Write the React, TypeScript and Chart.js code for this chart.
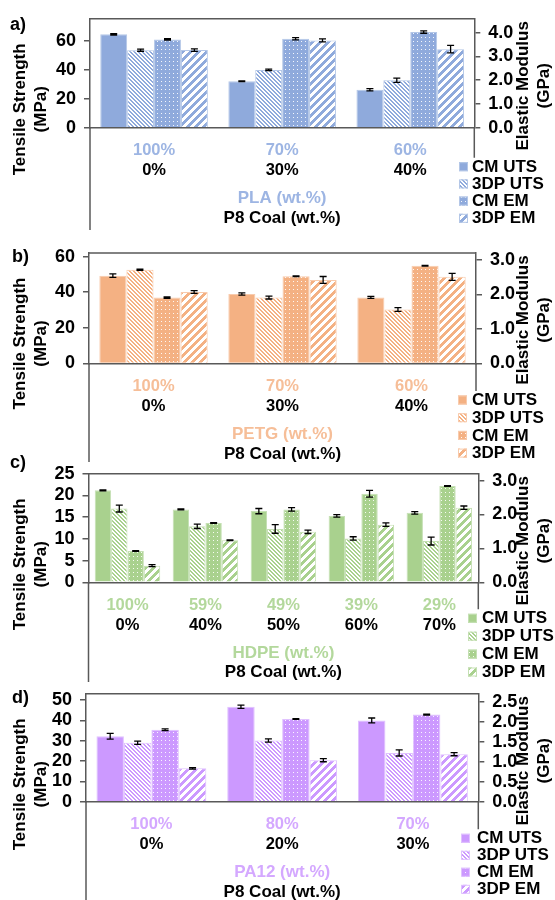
import React, { useEffect, useRef } from 'react';
import { Chart, registerables } from 'chart.js';

Chart.register(...registerables);

const FONT = "'Liberation Sans', Arial, Helvetica, sans-serif";
const AXIS = '#595959';

// ---------- Data ----------
const SERIES_NAMES = ['CM UTS', '3DP UTS', 'CM EM', '3DP EM'];
const COAL_TITLE = 'P8 Coal (wt.%)';

// a) PLA
const PLA_POLYMER = ['100%', '70%', '60%'];
const PLA_COAL = ['0%', '30%', '40%'];
const PLA_CM_UTS = [64.5, 32.1, 26.2];
const PLA_CM_UTS_ERR = [0.5, 0.3, 0.8];
const PLA_3DP_UTS = [53.5, 39.9, 32.8];
const PLA_3DP_UTS_ERR = [0.7, 0.5, 1.5];
const PLA_CM_EM = [3.72, 3.75, 4.03];
const PLA_CM_EM_ERR = [0.03, 0.05, 0.05];
const PLA_3DP_EM = [3.27, 3.68, 3.31];
const PLA_3DP_EM_ERR = [0.05, 0.06, 0.16];

// b) PETG
const PETG_POLYMER = ['100%', '70%', '60%'];
const PETG_COAL = ['0%', '30%', '40%'];
const PETG_CM_UTS = [49.3, 39.0, 37.1];
const PETG_CM_UTS_ERR = [1.0, 0.6, 0.6];
const PETG_3DP_UTS = [52.6, 37.0, 30.3];
const PETG_3DP_UTS_ERR = [0.4, 0.8, 1.0];
const PETG_CM_EM = [1.91, 2.53, 2.83];
const PETG_CM_EM_ERR = [0.02, 0.01, 0.01];
const PETG_3DP_EM = [2.07, 2.42, 2.51];
const PETG_3DP_EM_ERR = [0.04, 0.1, 0.1];

// c) HDPE
const HDPE_POLYMER = ['100%', '59%', '49%', '39%', '29%'];
const HDPE_COAL = ['0%', '40%', '50%', '60%', '70%'];
const HDPE_CM_UTS = [21.2, 16.8, 16.4, 15.3, 16.0];
const HDPE_CM_UTS_ERR = [0.1, 0.1, 0.6, 0.3, 0.3];
const HDPE_3DP_UTS = [17.0, 12.9, 12.3, 10.1, 9.5];
const HDPE_3DP_UTS_ERR = [0.8, 0.5, 1.0, 0.4, 0.9];
const HDPE_CM_EM = [0.92, 1.75, 2.15, 2.61, 2.84];
const HDPE_CM_EM_ERR = [0.01, 0.01, 0.05, 0.1, 0.01];
const HDPE_3DP_EM = [0.49, 1.24, 1.49, 1.7, 2.2];
const HDPE_3DP_EM_ERR = [0.03, 0.01, 0.05, 0.05, 0.05];

// d) PA12
const PA12_POLYMER = ['100%', '80%', '70%'];
const PA12_COAL = ['0%', '20%', '30%'];
const PA12_CM_UTS = [32.2, 46.7, 40.0];
const PA12_CM_UTS_ERR = [1.4, 0.8, 1.2];
const PA12_3DP_UTS = [29.0, 30.1, 24.0];
const PA12_3DP_UTS_ERR = [0.8, 0.8, 1.5];
const PA12_CM_EM = [1.8, 2.07, 2.18];
const PA12_CM_EM_ERR = [0.02, 0.01, 0.01];
const PA12_3DP_EM = [0.835, 1.04, 1.19];
const PA12_3DP_EM_ERR = [0.02, 0.04, 0.04];

// ---------- Panels (styles & layout) ----------
const PANELS = [
  {
    key: 'a', letter: 'a)', polymerName: 'PLA (wt.%)',
    polymer: PLA_POLYMER, coal: PLA_COAL,
    values: [PLA_CM_UTS, PLA_3DP_UTS, PLA_CM_EM, PLA_3DP_EM],
    errors: [PLA_CM_UTS_ERR, PLA_3DP_UTS_ERR, PLA_CM_EM_ERR, PLA_3DP_EM_ERR],
    color: '#8FAADC', light: '#B4C7E7', labelColor: '#9DB5E3',
    leftMax: 75.2, leftStep: 20, rightMax: 4.59, rightStep: 1,
    L: { canvasTop: 0, canvasH: 240, top: 17.5, zero: 127.7, left: 90, right: 474.3, lineBottom: 230,
      letterX: 10, letterY: 25, legendX: 459, legendTextX: 472, legendY: 166.7, legendDy: 17.2 },
  },
  {
    key: 'b', letter: 'b)', polymerName: 'PETG (wt.%)',
    polymer: PETG_POLYMER, coal: PETG_COAL,
    values: [PETG_CM_UTS, PETG_3DP_UTS, PETG_CM_EM, PETG_3DP_EM],
    errors: [PETG_CM_UTS_ERR, PETG_3DP_UTS_ERR, PETG_CM_EM_ERR, PETG_3DP_EM_ERR],
    color: '#F4B183', light: '#F8CBAD', labelColor: '#F6BE98',
    leftMax: 62, leftStep: 20, rightMax: 3.2, rightStep: 1,
    L: { canvasTop: 232, canvasH: 235, top: 253, zero: 363.5, left: 89, right: 476, lineBottom: 462,
      letterX: 12, letterY: 257, legendX: 458, legendTextX: 472, legendY: 400, legendDy: 17.7 },
  },
  {
    key: 'c', letter: 'c)', polymerName: 'HDPE (wt.%)',
    polymer: HDPE_POLYMER, coal: HDPE_COAL,
    values: [HDPE_CM_UTS, HDPE_3DP_UTS, HDPE_CM_EM, HDPE_3DP_EM],
    errors: [HDPE_CM_UTS_ERR, HDPE_3DP_UTS_ERR, HDPE_CM_EM_ERR, HDPE_3DP_EM_ERR],
    color: '#A9D18E', light: '#C5E0B4', labelColor: '#B3D89C',
    leftMax: 25, leftStep: 5, rightMax: 3.2, rightStep: 1,
    L: { canvasTop: 455, canvasH: 230, top: 472.3, zero: 582.3, left: 88.5, right: 478.3, lineBottom: 682,
      letterX: 10, letterY: 463, legendX: 468, legendTextX: 482, legendY: 618.3, legendDy: 17.9 },
  },
  {
    key: 'd', letter: 'd)', polymerName: 'PA12 (wt.%)',
    polymer: PA12_POLYMER, coal: PA12_COAL,
    values: [PA12_CM_UTS, PA12_3DP_UTS, PA12_CM_EM, PA12_3DP_EM],
    errors: [PA12_CM_UTS_ERR, PA12_3DP_UTS_ERR, PA12_CM_EM_ERR, PA12_3DP_EM_ERR],
    color: '#CC99FF', light: '#E0C2FF', labelColor: '#D4A8FF',
    leftMax: 53.1, leftStep: 10, rightMax: 2.7, rightStep: 0.5,
    L: { canvasTop: 675, canvasH: 225, top: 691.7, zero: 801.7, left: 86, right: 478.3, lineBottom: 900,
      letterX: 12, letterY: 698, legendX: 461, legendTextX: 477, legendY: 838.3, legendDy: 17 },
  },
];

function makePattern(ctx: CanvasRenderingContext2D, kind: number, color: string): any {
  if (kind === 0) return color;
  const t = document.createElement('canvas');
  const g = t.getContext('2d') as CanvasRenderingContext2D;
  if (kind === 1) {
    // fine downward diagonal: white "\" lines on colour
    t.width = 4; t.height = 4;
    g.fillStyle = color; g.fillRect(0, 0, 4, 4);
    g.fillStyle = '#ffffff';
    for (let y = 0; y < 4; y++) {
      g.fillRect(y % 4, y, 1, 1);
      g.fillRect((y + 1) % 4, y, 1, 1);
    }
  } else if (kind === 2) {
    // dotted: white dots on colour
    t.width = 4; t.height = 4;
    g.fillStyle = color; g.fillRect(0, 0, 4, 4);
    g.fillStyle = 'rgba(255,255,255,0.9)';
    g.fillRect(1, 1, 1, 1);
  } else {
    // wide upward diagonal: colour "/" stripes on white
    t.width = 8; t.height = 8;
    g.fillStyle = '#ffffff'; g.fillRect(0, 0, 8, 8);
    g.fillStyle = color;
    for (let y = 0; y < 8; y++) {
      for (let x = 0; x < 8; x++) {
        if ((x + y) % 8 < 4) g.fillRect(x, y, 1, 1);
      }
    }
  }
  return ctx.createPattern(t, 'repeat');
}

const errorBarPlugin = {
  id: 'errorBars',
  afterDatasetsDraw(chart: any) {
    const ctx = chart.ctx;
    ctx.save();
    ctx.strokeStyle = '#000';
    ctx.lineWidth = 1.3;
    chart.data.datasets.forEach((ds: any, i: number) => {
      const meta = chart.getDatasetMeta(i);
      const scale = chart.scales[ds.yAxisID];
      meta.data.forEach((bar: any, j: number) => {
        const v = ds.data[j];
        const e = ds.errors[j];
        const yHi = scale.getPixelForValue(v + e);
        const yLo = scale.getPixelForValue(v - e);
        const x = bar.x;
        ctx.beginPath();
        ctx.moveTo(x, yHi); ctx.lineTo(x, yLo);
        ctx.moveTo(x - 3.5, yHi); ctx.lineTo(x + 3.5, yHi);
        ctx.moveTo(x - 3.5, yLo); ctx.lineTo(x + 3.5, yLo);
        ctx.stroke();
      });
    });
    ctx.restore();
  },
};

function decorPlugin(spec: any) {
  return {
    id: 'decor' + spec.key,
    afterDraw(chart: any) {
      const ctx = chart.ctx;
      const ca = chart.chartArea;
      const L = spec.L;
      const off = L.canvasTop;
      ctx.save();
      // plot box lines
      ctx.strokeStyle = AXIS;
      ctx.lineWidth = 1.5;
      ctx.beginPath();
      ctx.moveTo(ca.left, ca.top); ctx.lineTo(ca.right, ca.top);
      ctx.moveTo(ca.left, ca.bottom); ctx.lineTo(ca.left, L.lineBottom - off);
      ctx.moveTo(ca.right, ca.bottom); ctx.lineTo(ca.right, L.legendY - 9 - off);
      ctx.stroke();

      const bold = (s: number) => `bold ${s}px ${FONT}`;
      ctx.fillStyle = '#000';
      ctx.textBaseline = 'middle';

      // panel letter
      ctx.font = bold(18);
      ctx.textAlign = 'left';
      ctx.fillText(spec.letter, L.letterX, L.letterY - off);

      // axis titles (rotated, reading bottom-to-top)
      ctx.font = bold(17);
      ctx.textAlign = 'center';
      const drawRot = (cx: number, cy: number, l1: string, l2: string) => {
        ctx.save();
        ctx.translate(cx, cy);
        ctx.rotate(-Math.PI / 2);
        ctx.fillText(l1, 0, -10.5);
        ctx.fillText(l2, 0, 10.5);
        ctx.restore();
      };
      drawRot(31, ca.top + 90.5, 'Tensile Strength', '(MPa)');
      drawRot(534, ca.top + 67, 'Elastic Modulus', '(GPa)');

      // category titles
      const cx = (ca.left + ca.right) / 2;
      ctx.fillStyle = spec.labelColor;
      ctx.fillText(spec.polymerName, cx, ca.bottom + 71);
      ctx.fillStyle = '#000';
      ctx.fillText(COAL_TITLE, cx, ca.bottom + 90.5);

      // legend
      ctx.textAlign = 'left';
      chart.data.datasets.forEach((ds: any, i: number) => {
        const y = L.legendY - off + i * L.legendDy;
        ctx.fillStyle = ds.backgroundColor;
        ctx.fillRect(L.legendX, y - 4.5, 9, 9);
        ctx.strokeStyle = spec.light;
        ctx.lineWidth = 1;
        ctx.strokeRect(L.legendX + 0.5, y - 4, 8, 8);
        ctx.fillStyle = '#000';
        ctx.fillText(ds.label, L.legendTextX, y + 0.5);
      });
      ctx.restore();
    },
  };
}

function Panel({ spec }: { spec: any }) {
  const ref = useRef<HTMLCanvasElement | null>(null);
  const L = spec.L;
  useEffect(() => {
    const canvas = ref.current as HTMLCanvasElement;
    const ctx = canvas.getContext('2d') as CanvasRenderingContext2D;
    const fills = [0, 1, 2, 3].map((k) => makePattern(ctx, k, spec.color));
    const tickFont = { family: FONT, size: 18, weight: 'bold' as const };
    const catFont = { family: FONT, size: 16.5, weight: 'bold' as const };
    const chart = new Chart(canvas, {
      type: 'bar',
      data: {
        labels: spec.polymer,
        datasets: SERIES_NAMES.map((name, i) => ({
          label: name,
          data: spec.values[i],
          errors: spec.errors[i],
          xAxisID: 'x',
          yAxisID: i < 2 ? 'y' : 'y1',
          backgroundColor: fills[i],
          borderColor: spec.light,
          borderWidth: 1,
          borderSkipped: 'bottom',
          categoryPercentage: 0.84,
          barPercentage: 1,
        })) as any,
      },
      options: {
        responsive: false,
        maintainAspectRatio: false,
        animation: false,
        events: [],
        layout: {
          padding: {
            top: L.top - L.canvasTop,
            left: 0,
            right: 0,
            bottom: L.canvasH - (L.zero - L.canvasTop) - 54,
          },
        },
        plugins: {
          legend: { display: false },
          tooltip: { enabled: false },
          title: { display: false },
        },
        scales: {
          x: {
            type: 'category',
            position: 'bottom',
            weight: 1,
            offset: true,
            grid: { display: false, drawTicks: false },
            border: { display: true, color: AXIS, width: 1.5 },
            ticks: { color: spec.labelColor, font: catFont, padding: 13, autoSkip: false, maxRotation: 0, minRotation: 0 },
            afterFit: (s: any) => { s.height = 30; },
          },
          x2: {
            type: 'category',
            labels: spec.coal,
            position: 'bottom',
            weight: 2,
            offset: true,
            grid: { display: false, drawTicks: false },
            border: { display: false },
            ticks: { color: '#000', font: catFont, padding: 3, autoSkip: false, maxRotation: 0, minRotation: 0 },
            afterFit: (s: any) => { s.height = 24; },
          },
          y: {
            type: 'linear',
            position: 'left',
            min: 0,
            max: spec.leftMax,
            grid: { display: true, drawOnChartArea: false, drawTicks: true, tickLength: 6, color: AXIS, tickColor: AXIS, lineWidth: 1.5 },
            border: { display: true, color: AXIS, width: 1.5 },
            ticks: { stepSize: spec.leftStep, includeBounds: false, autoSkip: false, color: '#000', font: tickFont, padding: 8 },
            afterFit: (s: any) => { s.width = L.left; },
          },
          y1: {
            type: 'linear',
            position: 'right',
            min: 0,
            max: spec.rightMax,
            grid: { display: true, drawOnChartArea: false, drawTicks: true, tickLength: 6, color: AXIS, tickColor: AXIS, lineWidth: 1.5 },
            border: { display: true, color: AXIS, width: 1.5 },
            ticks: {
              stepSize: spec.rightStep, includeBounds: false, autoSkip: false, color: '#000', font: tickFont, padding: 8,
              callback: (v: any) => Number(v).toFixed(1),
            },
            afterFit: (s: any) => { s.width = 555 - L.right; },
          },
        } as any,
      },
      plugins: [errorBarPlugin, decorPlugin(spec)],
    });
    return () => chart.destroy();
  }, [spec]);
  return (
    <canvas
      ref={ref}
      width={555}
      height={L.canvasH}
      style={{ position: 'absolute', left: 0, top: L.canvasTop, width: 555, height: L.canvasH }}
    />
  );
}

export default function App() {
  return (
    <div style={{ position: 'absolute', left: 0, top: 0, width: 555, height: 900, background: '#ffffff', overflow: 'hidden' }}>
      {PANELS.map((p) => (
        <Panel key={p.key} spec={p} />
      ))}
    </div>
  );
}
